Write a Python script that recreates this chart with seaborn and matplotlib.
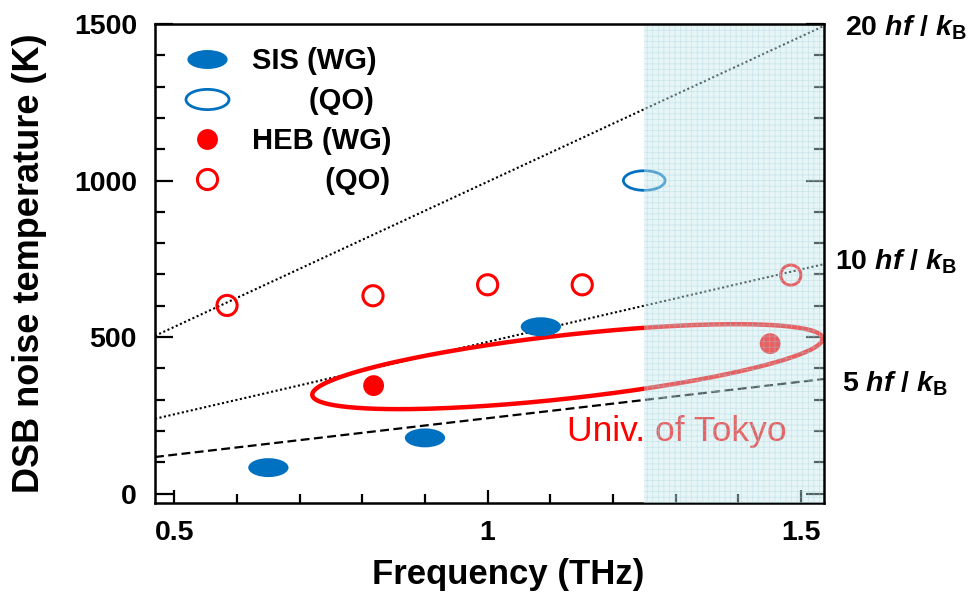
import matplotlib
matplotlib.use("Agg")
import matplotlib.pyplot as plt
import seaborn as sns
import numpy as np
import pandas as pd
from matplotlib.path import Path
from matplotlib.transforms import Affine2D
from matplotlib.lines import Line2D

# values (frequency in THz, noise temperature in K)
sis_wg_f = [0.65, 0.90, 1.085]
sis_wg_t = [83, 178, 533]
sis_qo_f = [1.25]
sis_qo_t = [1000]
heb_wg_f = [0.818, 1.451]
heb_wg_t = [345, 479]
heb_qo_f = [0.584, 0.817, 1.0, 1.151, 1.484]
heb_qo_t = [601, 632, 667, 667, 698]

# n hf/kB guide lines, end points at the axis edges
guide_f = [0.469, 1.537]
guide_20 = [504, 1494]
guide_10 = [239, 733]
guide_5 = [117, 366]

# Univ. of Tokyo region (ellipse ends + half height in K)
tokyo_left = (0.72, 316)
tokyo_right = (1.535, 495)
tokyo_half = 102

shade_from = 1.25
xlim = (0.469, 1.537)
ylim = (-30, 1500)

blue = "#0070C0"
red = "#FF0000"

sns.set_style("white")
plt.rcParams["font.family"] = ["Liberation Sans", "DejaVu Sans"]
plt.rcParams["font.weight"] = "bold"
plt.rcParams["axes.labelweight"] = "bold"
for key in ["text.color", "axes.labelcolor", "xtick.color", "ytick.color"]:
    plt.rcParams[key] = "k"
plt.rcParams["mathtext.fontset"] = "custom"
plt.rcParams["mathtext.rm"] = "Liberation Sans:bold"
plt.rcParams["mathtext.it"] = "Liberation Sans:italic:bold"
plt.rcParams["mathtext.bf"] = "Liberation Sans:bold"
plt.rcParams["hatch.linewidth"] = 0.5

fig = plt.figure(figsize=(9.7, 5.94), dpi=100)
ax = fig.add_axes([155 / 970, 1 - 503 / 594, 669 / 970, 479 / 594])

# ellipse marker
ell = Path.unit_circle().transformed(Affine2D().scale(1, 0.47))

# guide lines
sns.lineplot(x=guide_f, y=guide_20, color="k", lw=1.5, linestyle=(0, (1, 1.2)), ax=ax)
sns.lineplot(x=guide_f, y=guide_10, color="k", lw=1.5, linestyle=(0, (1, 1.2)), ax=ax)
sns.lineplot(x=guide_f, y=guide_5, color="k", lw=1.6, linestyle=(0, (4, 2)), ax=ax)

# Univ. of Tokyo ellipse
cx = (tokyo_left[0] + tokyo_right[0]) / 2
cy = (tokyo_left[1] + tokyo_right[1]) / 2
ax_f = tokyo_right[0] - cx
ax_t = tokyo_right[1] - cy
t = np.linspace(0, 2 * np.pi, 300)
ell_df = pd.DataFrame({"f": cx + ax_f * np.cos(t),
                       "T": cy + ax_t * np.cos(t) + tokyo_half * np.sin(t)})
sns.lineplot(data=ell_df, x="f", y="T", sort=False, estimator=None,
             color=red, lw=3.2, ax=ax, zorder=3)
ax.text(1.127, 167, "Univ. of Tokyo", color=red, fontsize=25.5, fontweight="normal",
        ha="left", va="baseline")

# data points
sns.scatterplot(x=sis_wg_f, y=sis_wg_t, marker=ell, s=29 ** 2, color=blue,
                edgecolor="none", ax=ax, zorder=4)
sns.scatterplot(x=sis_qo_f, y=sis_qo_t, marker=ell, s=30 ** 2, facecolor="none",
                edgecolor=blue, linewidth=2, ax=ax, zorder=4)
sns.scatterplot(x=heb_wg_f, y=heb_wg_t, marker="o", s=15 ** 2, color=red,
                edgecolor="none", ax=ax, zorder=4)
sns.scatterplot(x=heb_qo_f, y=heb_qo_t, marker="o", s=14.5 ** 2, facecolor="none",
                edgecolor=red, linewidth=2.2, ax=ax, zorder=4)

# shaded band
ax.axvspan(shade_from, xlim[1], facecolor=(0.78, 0.91, 0.93, 0.42),
           edgecolor=(0.62, 0.82, 0.85, 0.45), hatch="+++", lw=0, zorder=10)

ax.set_xlim(*xlim)
ax.set_ylim(*ylim)
ax.set_xticks([0.5, 1, 1.5])
ax.set_xticklabels(["0.5", "1", "1.5"])
ax.set_xticks(np.arange(0.5, 1.55, 0.1), minor=True)
ax.set_yticks([0, 500, 1000, 1500])
ax.set_yticks(np.arange(0, 1501, 100), minor=True)

for s in ax.spines.values():
    s.set_linewidth(1.8)
    s.set_color("k")
ax.spines["right"].set_zorder(12)
ax.spines["top"].set_zorder(12)

ax.tick_params(axis="y", which="both", direction="in", left=True, right=True,
               width=1.6, labelsize=20.5, pad=13, color="k")
ax.tick_params(axis="y", which="major", length=13)
ax.tick_params(axis="y", which="minor", length=7.5)
ax.tick_params(axis="x", which="both", direction="in", bottom=True, top=False,
               width=1.6, labelsize=20.5, pad=12, color="k")
ax.tick_params(axis="x", which="major", length=9.5)
ax.tick_params(axis="x", which="minor", length=6.5)

ax.set_xlabel("Frequency (THz)", fontsize=25, va="center")
ax.xaxis.set_label_coords(0.528, -0.150)
ax.set_ylabel("DSB noise temperature (K)", fontsize=26, va="center")
ax.yaxis.set_label_coords(-0.187, 0.5)

# line labels on the right
lab_kw = dict(transform=ax.transAxes, fontsize=20.5, ha="left", va="baseline", clip_on=False)
ax.text(1.031, 0.977, r"20 $\mathit{hf}$ / $\mathit{k}_\mathrm{B}$", **lab_kw)
ax.text(1.017, 0.4885, r"10 $\mathit{hf}$ / $\mathit{k}_\mathrm{B}$", **lab_kw)
ax.text(1.027, 0.2324, r"5 $\mathit{hf}$ / $\mathit{k}_\mathrm{B}$", **lab_kw)

# legend
handles = [
    Line2D([], [], marker=ell, ms=29, color=blue, mec="none", ls="none"),
    Line2D([], [], marker=ell, ms=31, mfc="none", mec=blue, mew=2, ls="none"),
    Line2D([], [], marker="o", ms=15, color=red, mec="none", ls="none"),
    Line2D([], [], marker="o", ms=14.5, mfc="none", mec=red, mew=2.2, ls="none"),
]
labels = ["SIS (WG)", "       (QO)", "HEB (WG)", "         (QO)"]
ax.legend(handles, labels, loc="upper left", bbox_to_anchor=(0.034, 0.952),
          frameon=False, fontsize=21, handlelength=2.0, handletextpad=0.54,
          labelspacing=0.41, borderpad=0, borderaxespad=0)

fig.savefig("out.png", dpi=100)
